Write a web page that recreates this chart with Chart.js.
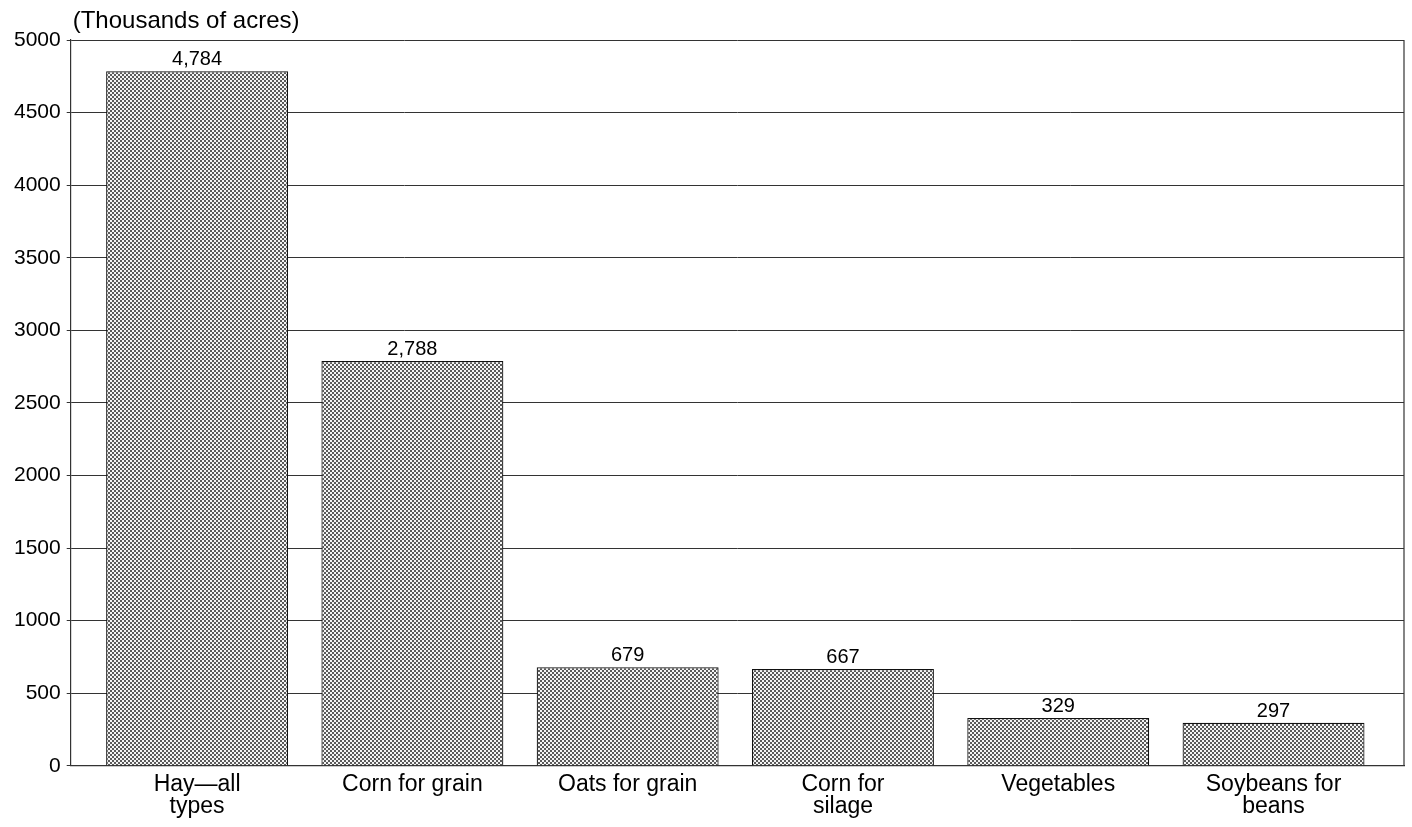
<!DOCTYPE html>
<html><head><meta charset="utf-8">
<script src="https://cdn.jsdelivr.net/npm/chart.js@4"></script>
<style>html,body{margin:0;padding:0;background:#fff;}#wrap{width:1412px;height:827px;}</style>
</head><body><div id="wrap"><canvas id="c"></canvas></div>
<script>
const categories = [["Hay\u2014all","types"],"Corn for grain","Oats for grain",["Corn for","silage"],"Vegetables",["Soybeans for","beans"]];
const acres = [4784, 2788, 679, 667, 329, 297];
const valueLabels = ["4,784","2,788","679","667","329","297"];
const unitLabel = "(Thousands of acres)";

function makePattern(){
  const p = document.createElement('canvas');
  p.width = 4; p.height = 4;
  const g = p.getContext('2d');
  g.fillStyle = '#f4f4f4'; g.fillRect(0,0,4,4);
  g.fillStyle = '#5a5a5a';
  g.fillRect(0,0,2,2); g.fillRect(2,2,2,2);
  return g.createPattern(p,'repeat');
}

const FONT = "'Liberation Sans', Arial, sans-serif";

const extras = {
  id:'extras',
  afterDraw(chart){
    const ctx = chart.ctx, a = chart.chartArea;
    ctx.save();
    ctx.strokeStyle = '#333'; ctx.lineWidth = 1.2;
    ctx.beginPath();
    ctx.moveTo(a.right, a.top); ctx.lineTo(a.right, a.bottom);
    ctx.stroke();
    ctx.fillStyle = '#000';
    ctx.font = "24px " + FONT;
    ctx.textAlign = 'left'; ctx.textBaseline = 'alphabetic';
    ctx.fillText(unitLabel, a.left + 2, 28);
    ctx.font = "20px " + FONT;
    ctx.textAlign = 'center'; ctx.textBaseline = 'alphabetic';
    const meta = chart.getDatasetMeta(0);
    meta.data.forEach((bar,i)=>{
      ctx.fillText(valueLabels[i], bar.x, bar.y - 6);
    });
    ctx.restore();
  }
};

new Chart(document.getElementById('c'), {
  type:'bar',
  data:{ labels: categories, datasets:[{ data: acres, backgroundColor: makePattern(), borderColor:'#111', borderWidth:1.2, barPercentage:0.845, categoryPercentage:1.0 }]},
  options:{
    responsive:true, maintainAspectRatio:false, animation:false,
    layout:{ padding:{ top:40, right:8, left:8, bottom:1 } },
    plugins:{ legend:{display:false}, tooltip:{enabled:false}, title:{display:false} },
    scales:{
      x:{
        afterBuildTicks(scale){ scale._startValue = -0.5 - 0.087; scale._valueRange = 6.193; },
        grid:{ display:false, drawTicks:false },
        border:{ display:true, color:'#333', width:1.2 },
        ticks:{ color:'#000', font:{ family:FONT, size:23, lineHeight:0.96 }, padding:8, maxRotation:0, autoSkip:false }
      },
      y:{
        min:0, max:5000,
        grid:{ color:'#333', lineWidth:1, tickLength:4, drawTicks:true },
        border:{ display:true, color:'#333', width:1.2 },
        ticks:{ stepSize:500, color:'#000', font:{ family:FONT, size:21 }, padding:6, callback:(v)=>String(v) }
      }
    }
  },
  plugins:[extras]
});
</script></body></html>
